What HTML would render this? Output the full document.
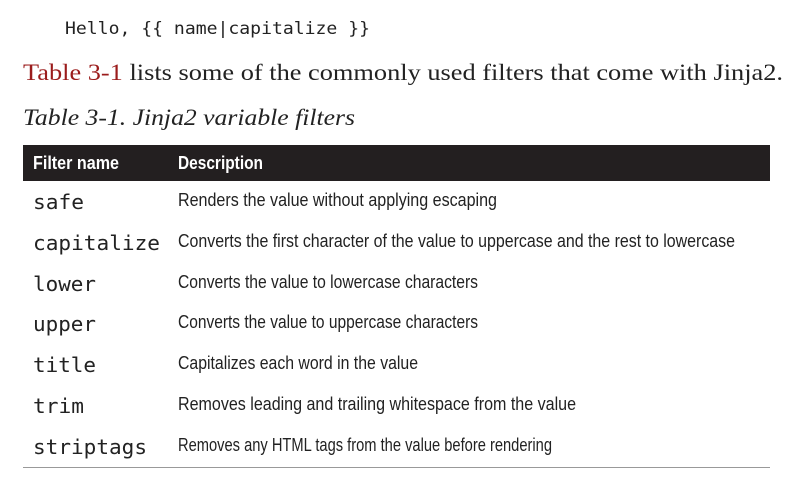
<!DOCTYPE html>
<html><head><meta charset="utf-8"><style>html,body{margin:0;padding:0;background:#fff;width:807px;height:477px;overflow:hidden}</style></head>
<body>
<svg width="807" height="477" xmlns="http://www.w3.org/2000/svg">
<text x="65" y="34" font-family="DejaVu Sans Mono, Liberation Mono, monospace" font-size="17" fill="#222" textLength="305" lengthAdjust="spacingAndGlyphs">Hello, {{ name|capitalize }}</text>
<text x="23" y="80" font-family="Liberation Serif, serif" font-size="23" fill="#222" textLength="760" lengthAdjust="spacingAndGlyphs"><tspan fill="#9b1c1c">Table 3-1</tspan> lists some of the commonly used filters that come with Jinja2.</text>
<text x="23" y="125" font-family="Liberation Serif, serif" font-style="italic" font-size="23" fill="#222" textLength="332" lengthAdjust="spacingAndGlyphs">Table 3-1. Jinja2 variable filters</text>
<rect x="23" y="145" width="747" height="36" fill="#231f20"/>
<g font-family="Liberation Sans Narrow, Liberation Sans, sans-serif" font-weight="bold" font-size="18" fill="#fff">
<text x="33" y="169" textLength="86" lengthAdjust="spacingAndGlyphs">Filter name</text>
<text x="178" y="169" textLength="85" lengthAdjust="spacingAndGlyphs">Description</text>
</g>
<g font-family="DejaVu Sans Mono, Liberation Mono, monospace" font-size="20" fill="#222">
<text x="33" y="209" textLength="51" lengthAdjust="spacingAndGlyphs">safe</text>
<text x="33" y="250" textLength="127" lengthAdjust="spacingAndGlyphs">capitalize</text>
<text x="33" y="291" textLength="63" lengthAdjust="spacingAndGlyphs">lower</text>
<text x="33" y="331" textLength="63" lengthAdjust="spacingAndGlyphs">upper</text>
<text x="33" y="372" textLength="63" lengthAdjust="spacingAndGlyphs">title</text>
<text x="33" y="413" textLength="51" lengthAdjust="spacingAndGlyphs">trim</text>
<text x="33" y="454" textLength="114" lengthAdjust="spacingAndGlyphs">striptags</text>
</g>
<g font-family="Liberation Sans Narrow, Liberation Sans, sans-serif" font-size="18" fill="#222">
<text x="178" y="206" textLength="319" lengthAdjust="spacingAndGlyphs">Renders the value without applying escaping</text>
<text x="178" y="247" textLength="557" lengthAdjust="spacingAndGlyphs">Converts the first character of the value to uppercase and the rest to lowercase</text>
<text x="178" y="288" textLength="300" lengthAdjust="spacingAndGlyphs">Converts the value to lowercase characters</text>
<text x="178" y="328" textLength="300" lengthAdjust="spacingAndGlyphs">Converts the value to uppercase characters</text>
<text x="178" y="369" textLength="240" lengthAdjust="spacingAndGlyphs">Capitalizes each word in the value</text>
<text x="178" y="410" textLength="398" lengthAdjust="spacingAndGlyphs">Removes leading and trailing whitespace from the value</text>
<text x="178" y="451" textLength="374" lengthAdjust="spacingAndGlyphs">Removes any HTML tags from the value before rendering</text>
</g>
<line x1="23" y1="467.5" x2="770" y2="467.5" stroke="#999" stroke-width="1"/>
</svg>
</body></html>
